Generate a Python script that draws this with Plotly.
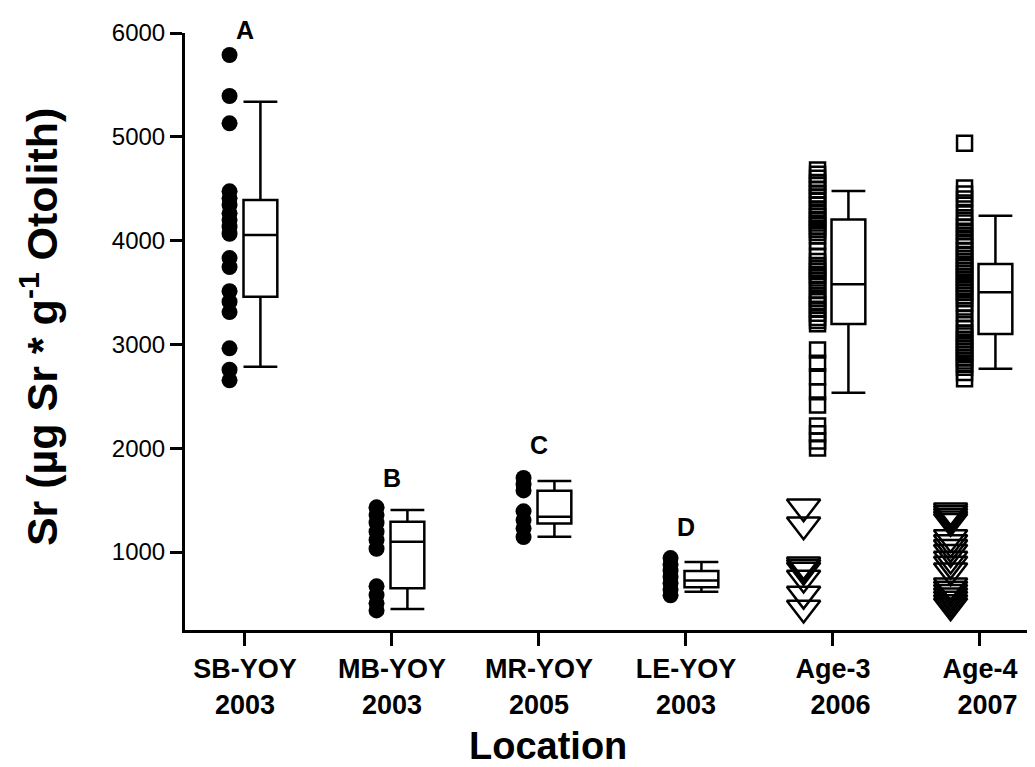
import plotly.graph_objects as go

# ---------------- data ----------------
tick_labels = ["<b>SB-YOY<br>2003</b>", "<b>MB-YOY<br>2003</b>", "<b>MR-YOY<br>2005</b>",
               "<b>LE-YOY<br>2003</b>", "<b>Age-3<br>&nbsp;&nbsp;2006</b>", "<b>Age-4<br>&nbsp;&nbsp;2007</b>"]
cat_pos = [0, 1, 2, 3, 4, 5]

sb_dots = [5788, 5393, 5130, 4475, 4407, 4343, 4263, 4198, 4134, 4066, 3832, 3746,
           3512, 3411, 3312, 2962, 2756, 2654]
mb_dots = [1431, 1356, 1282, 1196, 1116, 1032, 670, 586, 506, 438]
mr_dots = [1713, 1650, 1594, 1392, 1308, 1228, 1145]
le_dots = [942, 880, 820, 760, 700, 640, 583]

age3_squares = [4680, 4640, 4600, 4560, 4530, 4490, 4450, 4420, 4380, 4340, 4300, 4260,
                4230, 4200, 4170, 4140, 4110, 4080, 4050, 3990, 3900, 3850, 3800, 3760,
                3730, 3700, 3670, 3640, 3610, 3580, 3520, 3470, 3440, 3410, 3380, 3340,
                3300, 3260, 3230, 3200, 2946, 2818, 2689, 2544, 2416, 2214, 2140, 2069, 2002]
age3_triangles = [1436, 1263, 878, 853, 826, 750, 595, 461]

age4_squares = [4937, 4507, 4450, 4400, 4340, 4270, 4220, 4170, 4130, 4090, 4050, 4010,
                3970, 3940, 3900, 3860, 3830, 3800, 3770, 3740, 3710, 3680, 3650, 3620,
                3590, 3560, 3530, 3500, 3470, 3440, 3400, 3360, 3300, 3250, 3190, 3150,
                3110, 3080, 3050, 3020, 2990, 2960, 2930, 2900, 2870, 2840, 2810, 2780,
                2730, 2670]
age4_triangles = [1398, 1373, 1347, 1321, 1296, 1141, 1093, 1045, 997, 933, 884, 820,
                  675, 644, 612, 579, 547, 515, 483]

# box summaries: lower whisker, q1, median, q3, upper whisker
box_lower = [2785, 451, 1147, 618, 2535, 2766]
box_q1 = [3460, 650, 1276, 660, 3197, 3100]
box_median = [4054, 1099, 1340, 726, 3579, 3502]
box_q3 = [4391, 1292, 1591, 817, 4203, 3775]
box_upper = [5338, 1405, 1684, 904, 4478, 4240]

letters = ["A", "B", "C", "D"]
letter_y = [6000, 1713, 2031, 1240]

# ---------------- figure ----------------
FONT = "Arial, Liberation Sans, sans-serif"
fig = go.Figure()

dot_off = -0.105
box_off = 0.105
tri_off = -0.2

def add_pts(x, vals, symbol, size, lw):
    fig.add_trace(go.Scatter(
        x=[x] * len(vals), y=vals, mode="markers", showlegend=False,
        marker=dict(symbol=symbol, size=size, color="black",
                    line=dict(color="black", width=lw)),
        cliponaxis=False))

add_pts(0 + dot_off, sb_dots, "circle", 16, 0)
add_pts(1 + dot_off, mb_dots, "circle", 16, 0)
add_pts(2 + dot_off, mr_dots, "circle", 16, 0)
add_pts(3 + dot_off, le_dots, "circle", 16, 0)
add_pts(4 + dot_off, age3_squares, "square-open", 15, 2.5)
add_pts(4 + tri_off, age3_triangles, "triangle-down-open", 29, 2.5)
add_pts(5 + dot_off, age4_squares, "square-open", 15, 2.5)
add_pts(5 + tri_off, age4_triangles, "triangle-down-open", 29, 2.5)

fig.add_trace(go.Box(
    x=[p + box_off for p in cat_pos],
    q1=box_q1, median=box_median, q3=box_q3,
    lowerfence=box_lower, upperfence=box_upper,
    width=0.23, whiskerwidth=1, boxpoints=False,
    fillcolor="white", line=dict(color="black", width=2.5),
    showlegend=False, hoverinfo="skip"))

for i, (t, y) in enumerate(zip(letters, letter_y)):
    fig.add_annotation(x=cat_pos[i], y=y, text="<b>%s</b>" % t, showarrow=False,
                       font=dict(family=FONT, size=25, color="black"),
                       xanchor="center", yanchor="middle",
                       yshift=3 if i == 0 else 0)

# axis titles as annotations (placed like the reference)
fig.add_annotation(xref="paper", yref="paper", x=0.429, y=-0.194,
                   text="<b>Location</b>", showarrow=False,
                   font=dict(family=FONT, size=38, color="black"),
                   xanchor="center", yanchor="middle")
fig.add_annotation(xref="paper", yref="paper", x=-0.1726, y=0.509,
                   text="<b>Sr (µg Sr * g<sup>-1</sup> Otolith)</b>", showarrow=False,
                   textangle=-90,
                   font=dict(family=FONT, size=43, color="black"),
                   xanchor="center", yanchor="middle")

# page has an 8px body margin: shrink the figure so the plot area lands where the reference's does
fig.update_layout(
    width=1027, height=759,
    margin=dict(l=177, r=4, t=25, b=137),
    paper_bgcolor="white", plot_bgcolor="white",
    font=dict(family=FONT, color="black"),
    xaxis=dict(range=[-0.408, 5.347], tickvals=cat_pos, ticktext=tick_labels,
               showline=True, linecolor="black", linewidth=3,
               ticks="outside", ticklen=13, tickwidth=3, tickcolor="black",
               showgrid=False, zeroline=False,
               tickfont=dict(family=FONT, size=27, color="black")),
    yaxis=dict(range=[249, 6000], tickvals=[1000, 2000, 3000, 4000, 5000, 6000],
               showline=True, linecolor="black", linewidth=3,
               ticks="outside", ticklen=12, tickwidth=2.5, tickcolor="black",
               showgrid=False, zeroline=False,
               tickfont=dict(family=FONT, size=24, color="black")),
)

fig.write_html("out.html")
